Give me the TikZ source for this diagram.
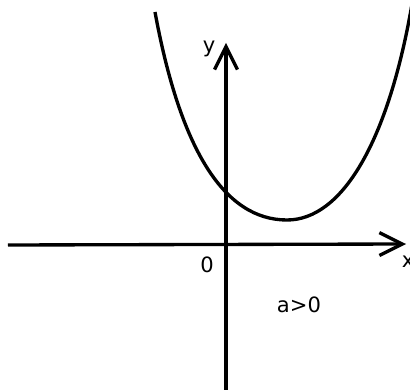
\documentclass[tikz,border=0pt]{standalone}
\usepackage{fontspec}
\setmainfont{DejaVu Sans}
\usetikzlibrary{positioning,arrows.meta}

\begin{document}
\begin{tikzpicture}[>={Straight Barb[length=13pt,width=13pt]},line width=1.9pt]
\useasboundingbox (-4.52,-2.92) rectangle (3.68,4.88);
\coordinate (xstart) at (-4.36,-0.02);
\coordinate (xend) at (3.6,0);
\coordinate (ystart) at (0,-2.95);
\coordinate (yend) at (0,4.02);
\draw[->] (xstart) -- (xend);
\draw[->] (ystart) -- (yend);
\node[font=\fontsize{12}{14}\selectfont] (ylab) at (-0.34,3.9) {y};
\node[font=\fontsize{12}{14}\selectfont] (xlab) at (3.64,-0.36) {x};
\node[font=\fontsize{12}{14}\selectfont] (origin) at (-0.38,-0.42) {0};
\node[font=\fontsize{12}{14}\selectfont] (cond) at (1.46,-1.22) {a>0};
% parabola
\coordinate (ptop) at (-1.42,4.64);
\coordinate (vertex) at (1.22,0.48);
\coordinate (pend) at (3.72,4.8);
\draw (ptop) .. controls (-0.91,1.87) and (-0.03,0.48) .. (vertex)
  .. controls (2.32,0.48) and (3.244,2.042) .. (pend);
\end{tikzpicture}
\end{document}
